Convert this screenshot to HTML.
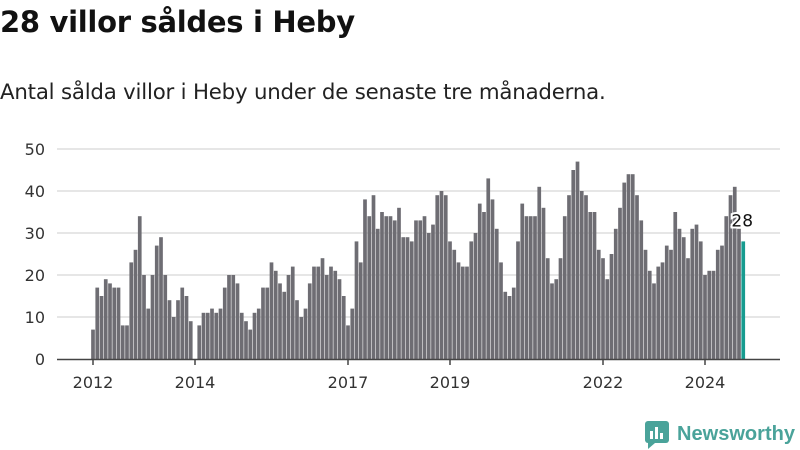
<!DOCTYPE html>
<html><head><meta charset="utf-8">
<style>
body{margin:0;background:#fff;font-family:"Liberation Sans","DejaVu Sans",sans-serif;}
#wrap{position:relative;width:800px;height:450px;overflow:hidden;}
h1{position:absolute;left:0;top:5px;margin:0;font-size:29px;font-weight:bold;color:#111;font-family:"DejaVu Sans","Liberation Sans",sans-serif;letter-spacing:-0.3px}
.sub{position:absolute;left:0;top:80px;font-size:21.3px;color:#222;font-family:"DejaVu Sans","Liberation Sans",sans-serif;letter-spacing:-0.2px}
svg{position:absolute;left:0;top:0}
</style></head><body>
<div id="wrap">
<h1>28 villor såldes i Heby</h1>
<div class="sub">Antal sålda villor i Heby under de senaste tre månaderna.</div>
<svg id="chart" width="800" height="450"></svg>
</div>
<script>
const values=[7,17,15,19,18,17,17,8,8,23,26,34,20,12,20,27,29,20,14,10,14,17,15,9,
0,8,11,11,12,11,12,17,20,20,18,11,9,7,11,
12,17,17,23,21,18,16,20,22,14,10,12,18,22,22,24,20,22,21,19,15,
8,12,28,23,38,34,39,31,35,34,34,33,36,29,29,28,33,33,
34,30,32,39,40,39,28,26,23,22,22,28,30,37,35,43,38,31,23,16,15,17,28,37,34,34,34,41,36,24,18,19,24,34,39,45,47,40,39,
35,35,26,24,19,25,31,36,42,44,44,39,33,26,21,18,22,23,27,26,35,31,29,24,31,32,28,20,21,21,26,27,34,39,41,31,28];
const startYear=2012;
const yTicks=[0,10,20,30,40,50];
const xTickYears=[2012,2014,2017,2019,2022,2024];
const lastLabel="28";

const NS="http://www.w3.org/2000/svg";
const svg=document.getElementById('chart');
function y(v){return 359-4.2*v;}
function x(i){return 93+4.25*i;}
function mk(t,a,p){const e=document.createElementNS(NS,t);for(const k in a)e.setAttribute(k,a[k]);(p||svg).appendChild(e);return e;}
yTicks.forEach(t=>{
  if(t>0){const g=mk('line',{x1:57,x2:780,y1:y(t),y2:y(t),stroke:'#dedede','stroke-width':1.5});
  
  }
  const tx=mk('text',{x:45,y:y(t)+6,'text-anchor':'end','font-size':16,fill:'#333','font-family':'DejaVu Sans, Liberation Sans, sans-serif'});
  tx.textContent=t;
  
  
});
values.forEach((v,i)=>{
  if(v<=0)return;
  const last=i===values.length-1;
  const r=mk('rect',{x:x(i)-1.85,y:y(v),width:3.7,height:359-y(v),fill:last?'#169b8f':'#6e6d73'});
  
  
});
const ax=mk('line',{x1:57,x2:780,y1:359.5,y2:359.5,stroke:'#444','stroke-width':1.5});


xTickYears.forEach(yr=>{
  const i=(yr-startYear)*12;
  const tk=mk('line',{x1:x(i),x2:x(i),y1:359,y2:365,stroke:'#444','stroke-width':1.5});
  
  
  const tx=mk('text',{x:x(i),y:388,'text-anchor':'middle','font-size':16,fill:'#333','font-family':'DejaVu Sans, Liberation Sans, sans-serif'});
  tx.textContent=yr;
  
  
});
const li=values.length-1;
const lb=mk('text',{x:x(li)-1,y:y(values[li])-15,'text-anchor':'middle','font-size':17,fill:'#111',stroke:'#fff','stroke-width':4,'paint-order':'stroke','font-family':'DejaVu Sans, Liberation Sans, sans-serif'});
lb.textContent=lastLabel;


// logo
const lg=mk('g',{});


mk('rect',{x:645,y:421,width:24,height:22,rx:3,fill:'#4aa39a'},lg);
mk('rect',{x:650,y:431,width:3,height:8,fill:'#fff'},lg);
mk('rect',{x:655,y:427,width:3,height:12,fill:'#fff'},lg);
mk('rect',{x:660,y:433,width:3,height:6,fill:'#fff'},lg);
mk('path',{d:'M648 443 L648 449 L655 443 Z',fill:'#4aa39a'},lg);
const lt=mk('text',{x:677,y:440,'font-size':20,'font-weight':'bold',fill:'#4aa39a','font-family':'Liberation Sans, sans-serif',textLength:118,lengthAdjust:'spacingAndGlyphs'},lg);
lt.textContent='Newsworthy';


</script>
</body></html>
